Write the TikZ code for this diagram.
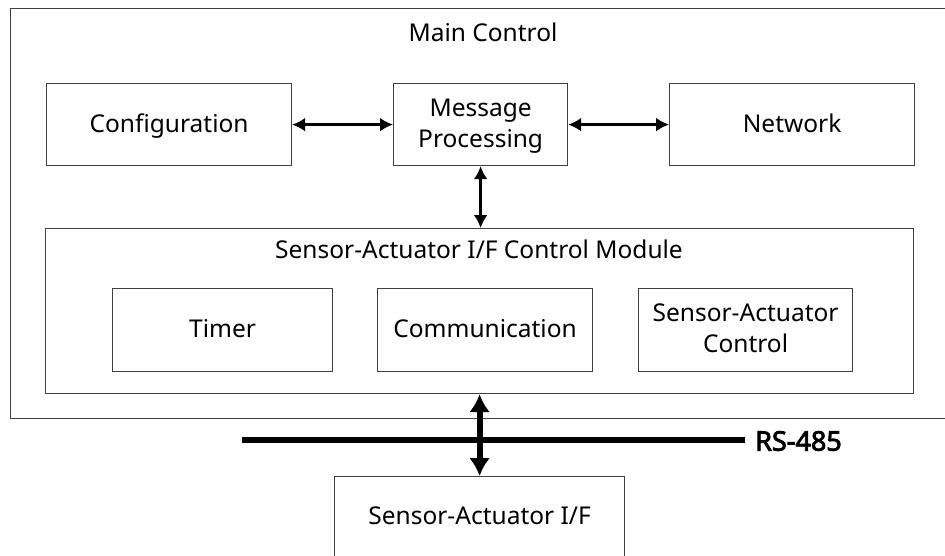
\documentclass[tikz,border=0pt]{standalone}
\usepackage{fontspec}
\setmainfont{Noto Sans}[BoldFont={Noto Sans}, BoldFeatures={FakeBold=3}]
\definecolor{boxgray}{RGB}{64,64,64}
\usetikzlibrary{arrows.meta, positioning}
\tikzset{
	block/.style={rectangle, draw=boxgray, line width=1.2pt, fill=white, align=center, inner sep=0pt, anchor=north west, text depth=0.3em, font=\fontsize{24.5}{31}\selectfont},
	title/.style={anchor=base, inner sep=0pt, font=\fontsize{24.5}{30}\selectfont},
	biarrow/.style={{Latex[length=13pt,width=14pt]}-{Latex[length=13pt,width=14pt]}, line width=3.2pt},
	busarrow/.style={{Latex[length=18pt,width=21pt]}-{Latex[length=18pt,width=21pt]}, line width=6pt},
	bus/.style={line width=6pt},
}

\begin{document}
\begin{tikzpicture}[x=1pt, y=-1pt]
	\clip (0,0) rectangle (945,555);
	% main control frame, cut by the right edge
	\node[block, minimum width=950pt, minimum height=410pt] (main) at (10,8) {};
	\node[title] (maintitle) at (483,41) {Main Control};
	\node[block, minimum width=245pt, minimum height=82pt] (config) at (46,83) {Configuration};
	\node[block, minimum width=174pt, minimum height=82pt] (msg) at (393,83) {Message\\Processing};
	\node[block, minimum width=245pt, minimum height=82pt] (network) at (669,83) {Network};
	% interface control module
	\node[block, minimum width=868pt, minimum height=165pt] (sacm) at (45,228) {};
	\node[title] (sacmtitle) at (479,258) {Sensor-Actuator I/F Control Module};
	\node[block, minimum width=220pt, minimum height=83pt] (timer) at (112,288) {Timer};
	\node[block, minimum width=215pt, minimum height=83pt] (comm) at (377,288) {Communication};
	\node[block, minimum width=214pt, minimum height=83pt] (sactrl) at (638,288) {Sensor-Actuator\\Control};
	% bus and field device
	\coordinate (busL) at (242,440);
	\coordinate (busR) at (745,440);
	\node[anchor=west, inner sep=0pt, font=\fontsize{27}{32}\selectfont\bfseries] (rslabel) at (755,441) {RS-485};
	\node[block, minimum width=290pt, minimum height=82pt] (saif) at (334,476) {Sensor-Actuator I/F};
	\draw[bus] (busL) -- (busR);
	\draw[biarrow] (config) -- (msg);
	\draw[biarrow] (msg) -- (network);
	\draw[biarrow] (msg.south) -- (msg.south |- sacm.north);
	\draw[busarrow] (saif.north |- sacm.south) -- (saif.north);
\end{tikzpicture}
\end{document}
